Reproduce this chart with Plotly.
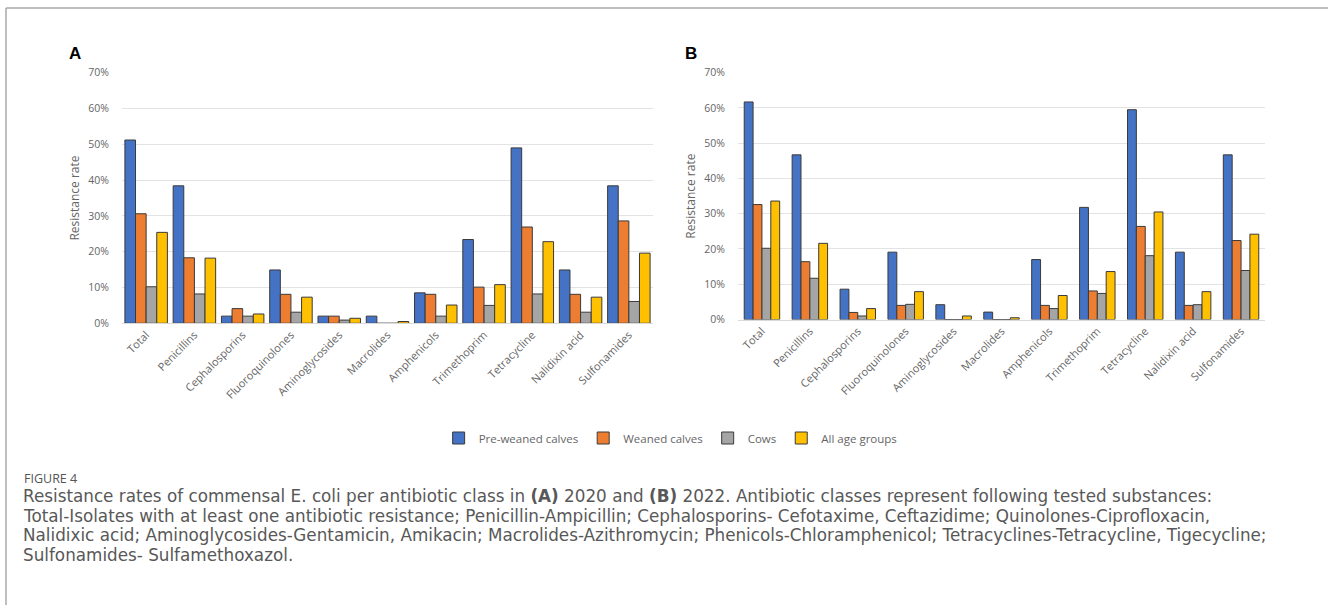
import plotly.graph_objects as go

categories = ["Total", "Penicillins", "Cephalosporins", "Fluoroquinolones", "Aminoglycosides",
              "Macrolides", "Amphenicols", "Trimethoprim", "Tetracycline", "Nalidixin acid", "Sulfonamides"]
series_names = ["Pre-weaned calves", "Weaned calves", "Cows", "All age groups"]

# Panel A (2020), resistance rate in %
a_pre = [51.2, 38.4, 2.0, 14.9, 2.0, 2.0, 8.5, 23.4, 49.0, 14.9, 38.4]
a_wean = [30.6, 18.3, 4.1, 8.1, 2.0, 0.0, 8.1, 10.1, 26.9, 8.1, 28.6]
a_cows = [10.2, 8.2, 2.0, 3.1, 0.9, 0.0, 2.0, 5.0, 8.2, 3.1, 6.1]
a_all = [25.4, 18.2, 2.6, 7.3, 1.4, 0.5, 5.1, 10.8, 22.8, 7.3, 19.6]

# Panel B (2022), resistance rate in %
b_pre = [61.7, 46.7, 8.6, 19.1, 4.2, 2.1, 17.0, 31.8, 59.5, 19.1, 46.7]
b_wean = [32.6, 16.4, 2.0, 4.0, 0.0, 0.0, 4.0, 8.1, 26.4, 4.0, 22.4]
b_cows = [20.2, 11.7, 1.0, 4.3, 0.0, 0.0, 3.1, 7.4, 18.1, 4.2, 13.9]
b_all = [33.6, 21.6, 3.1, 7.9, 1.0, 0.5, 6.8, 13.6, 30.5, 7.9, 24.2]

y_ticks = [0, 10, 20, 30, 40, 50, 60, 70]
y_tick_labels = ["0%", "10%", "20%", "30%", "40%", "50%", "60%", "70%"]

colors = ["#4472C4", "#ED7D31", "#A5A5A5", "#FFC000"]
W, H = 1328, 605

fig = go.Figure()

panel_a = [a_pre, a_wean, a_cows, a_all]
panel_b = [b_pre, b_wean, b_cows, b_all]
wa, wb = 0.22, 0.185

for i, (name, vals) in enumerate(zip(series_names, panel_a)):
    fig.add_trace(go.Bar(
        x=categories, y=vals, name=name, xaxis="x", yaxis="y",
        width=wa, offset=-2 * wa + i * wa,
        marker=dict(color=colors[i], line=dict(color="#3a3a3a", width=1)),
        showlegend=True, legendgroup=name))
for i, (name, vals) in enumerate(zip(series_names, panel_b)):
    fig.add_trace(go.Bar(
        x=categories, y=vals, name=name, xaxis="x2", yaxis="y2",
        width=wb, offset=-2 * wb + i * wb,
        marker=dict(color=colors[i], line=dict(color="#3a3a3a", width=1)),
        showlegend=False, legendgroup=name))

tickfont = dict(family="Open Sans", size=10.5, color="#666666")
xcommon = dict(type="category", range=[-0.5, 10.5], tickangle=-45,
               tickfont=dict(family="Open Sans", size=11, color="#666666"),
               showline=True, linecolor="#d9d9d9", linewidth=1, ticks="", showgrid=False,
               fixedrange=True, automargin=False)
ycommon = dict(range=[0, 70], tickmode="array", tickvals=y_ticks, ticktext=y_tick_labels,
               tickfont=tickfont, automargin=False, fixedrange=True,
               showgrid=True, gridcolor="#e3e3e3", gridwidth=1, zeroline=False,
               showline=False, ticks="", ticklabelstandoff=12,
               title=dict(text="Resistance rate", font=dict(family="Open Sans", size=12, color="#666666"),
                          standoff=6))

y0a = 1 - 323.3 / H
y0b = 1 - 319.5 / H
ytop = 1 - 72.7 / H

fig.update_layout(
    template="none",
    width=W, height=H, autosize=False,
    margin=dict(l=0, r=0, t=0, b=0, pad=0, autoexpand=False),
    paper_bgcolor="white", plot_bgcolor="white",
    barmode="overlay",
    font=dict(family="Open Sans", color="#555555"),
    xaxis=dict(domain=[122 / W, 653 / W], anchor="y", **xcommon),
    yaxis=dict(domain=[y0a, ytop], anchor="x", **ycommon),
    xaxis2=dict(domain=[738 / W, 1265 / W], anchor="y2", **xcommon),
    yaxis2=dict(domain=[y0b, ytop], anchor="x2", **ycommon),
    legend=dict(orientation="h", x=0.505, xanchor="center", y=1 - 438 / H, yanchor="middle",
                font=dict(family="Open Sans", size=11.5, color="#666666"),
                itemwidth=30, traceorder="normal", bgcolor="rgba(0,0,0,0)"),
    showlegend=True,
)

# Frame of the figure box
fig.add_shape(type="line", xref="paper", yref="paper", x0=6 / W, x1=1, y0=1 - 8 / H, y1=1 - 8 / H,
              line=dict(color="#a8a8a8", width=1.5))
fig.add_shape(type="line", xref="paper", yref="paper", x0=6 / W, x1=6 / W, y0=0, y1=1 - 8 / H,
              line=dict(color="#a8a8a8", width=1.5))

# Panel letters
fig.add_annotation(text="<b>A</b>", xref="paper", yref="paper", x=75 / W, y=1 - 53 / H,
                   xanchor="center", yanchor="middle",
                   showarrow=False, font=dict(family="Liberation Sans", size=17, color="black"))
fig.add_annotation(text="<b>B</b>", xref="paper", yref="paper", x=691 / W, y=1 - 53 / H,
                   xanchor="center", yanchor="middle",
                   showarrow=False, font=dict(family="Liberation Sans", size=17, color="black"))

# Caption
cap_font = dict(family="DejaVu Sans", size=16.8, color="#585858")
fig.add_annotation(text="FIGURE 4", xref="paper", yref="paper", x=22 / W, y=1 - 478 / H,
                   xanchor="left", yanchor="middle", showarrow=False,
                   font=dict(family="Open Sans", size=12.5, color="#555555"))
caption_lines = [
    "Resistance rates of commensal E. coli per antibiotic class in <b>(A)</b> 2020 and <b>(B)</b> 2022. Antibiotic classes represent following tested substances:",
    "Total-Isolates with at least one antibiotic resistance; Penicillin-Ampicillin; Cephalosporins- Cefotaxime, Ceftazidime; Quinolones-Ciprofloxacin,",
    "Nalidixic acid; Aminoglycosides-Gentamicin, Amikacin; Macrolides-Azithromycin; Phenicols-Chloramphenicol; Tetracyclines-Tetracycline, Tigecycline;",
    "Sulfonamides- Sulfamethoxazol.",
]
for k, line in enumerate(caption_lines):
    fig.add_annotation(text=line, xref="paper", yref="paper", x=22 / W, y=1 - (496 + 19.5 * k) / H,
                       xanchor="left", yanchor="middle", showarrow=False, font=cap_font, borderpad=0)

fig.write_html("out.html", config={"displayModeBar": False},
               post_script="document.body.style.margin='0';document.body.style.overflow='hidden';")
